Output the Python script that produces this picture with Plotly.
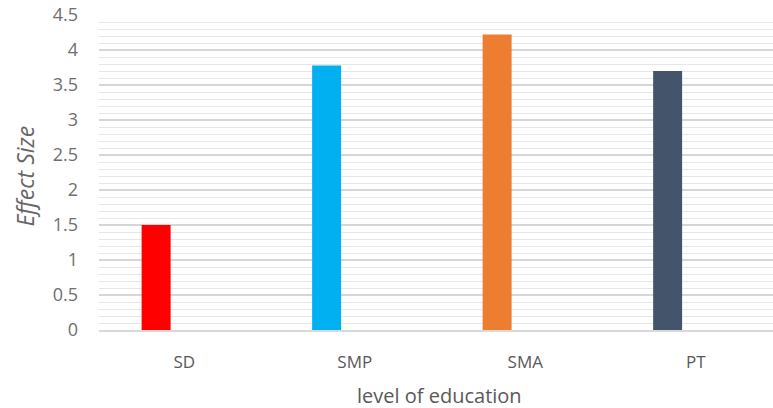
import plotly.graph_objects as go

# Effect size by level of education
categories = ["SD", "SMP", "SMA", "PT"]
effect_size = [1.5, 3.78, 4.22, 3.7]
bar_colors = ["#FF0000", "#00B0F0", "#ED7D31", "#44546A"]
y_ticks = [0, 0.5, 1, 1.5, 2, 2.5, 3, 3.5, 4, 4.5]
y_tick_labels = ["0", "0.5", "1", "1.5", "2", "2.5", "3", "3.5", "4", "4.5"]

FONT = "Open Sans"
TEXT_GRAY = "#595959"

fig = go.Figure(
    go.Bar(
        x=categories,
        y=effect_size,
        marker=dict(color=bar_colors, line=dict(width=0)),
        width=0.17,
        offset=-0.25,
        hoverinfo="x+y",
    )
)

fig.update_layout(
    width=773,
    height=408,
    margin=dict(l=99, r=0, t=15, b=78, pad=0),
    paper_bgcolor="white",
    plot_bgcolor="white",
    showlegend=False,
    font=dict(family=FONT, color=TEXT_GRAY),
    xaxis=dict(
        type="category",
        range=[-0.5, 3.453],
        showgrid=False,
        showline=True,
        linecolor="#d9d9d9",
        linewidth=1.5,
        ticks="",
        tickfont=dict(family=FONT, size=17, color=TEXT_GRAY),
        ticklabelstandoff=16,
    ),
    yaxis=dict(
        range=[0, 4.5],
        tickvals=y_ticks,
        ticktext=y_tick_labels,
        showgrid=True,
        gridcolor="#d6d6d6",
        gridwidth=1.5,
        zeroline=False,
        showline=False,
        ticks="",
        tickfont=dict(family=FONT, size=18, color="#6f6f6f"),
        ticklabelstandoff=20,
        minor=dict(dtick=0.1, showgrid=True, gridcolor="#e6e6e6", gridwidth=1),
    ),
    annotations=[
        dict(
            text="<i>Effect Size</i>",
            xref="paper", yref="paper",
            x=-0.11, y=0.49,
            xanchor="center", yanchor="middle",
            textangle=-90,
            showarrow=False,
            font=dict(family=FONT, size=23, color="#666666"),
        ),
        dict(
            text="level of education",
            xref="paper", yref="paper",
            x=0.505, y=-0.163,
            xanchor="center", yanchor="top",
            showarrow=False,
            borderpad=0,
            font=dict(family=FONT, size=20, color=TEXT_GRAY),
        ),
    ],
)

fig.write_html("out.html")
